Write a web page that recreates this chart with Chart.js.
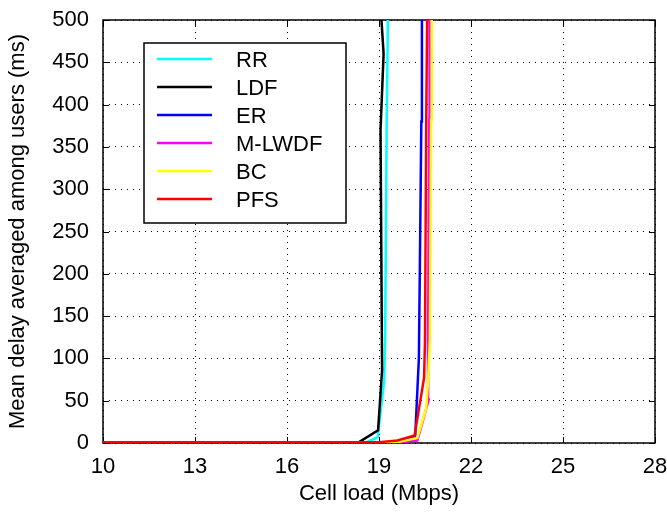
<!DOCTYPE html>
<html>
<head>
<meta charset="utf-8">
<script src="https://cdn.jsdelivr.net/npm/chart.js@4.4.1/dist/chart.umd.min.js"></script>
<style>
  html, body { margin: 0; padding: 0; background: #fff; }
  #wrap { width: 667px; height: 514px; }
</style>
</head>
<body>
<div id="wrap"><canvas id="chart"></canvas></div>
<script>
// Mean delay vs cell load, one line per scheduler.

const xTicks = [10, 13, 16, 19, 22, 25, 28];
const yTicks = [0, 50, 100, 150, 200, 250, 300, 350, 400, 450, 500];

const seriesNames = ['RR', 'LDF', 'ER', 'M-LWDF', 'BC', 'PFS'];
const seriesColors = ['#00ffff', '#000000', '#0000ff', '#ff00ff', '#ffff00', '#ff0000'];

const rrLoad   = [10, 18.6, 18.96, 19.17, 19.2, 19.25, 19.29];
const rrDelay  = [1, 1, 7, 74, 122, 380, 500];

const ldfLoad  = [10, 18.35, 18.97, 19.1, 19.05, 19.15, 19.08];
const ldfDelay = [1, 1, 15, 86, 370, 460, 500];

const erLoad   = [10, 19.5, 20.18, 20.3, 20.33, 20.38, 20.4];
const erDelay  = [1, 1, 7, 100, 200, 380, 500];

const mlwdfLoad  = [10, 19.5, 20.25, 20.62, 20.6, 20.64, 20.65];
const mlwdfDelay = [0.5, 0.5, 3, 51, 122, 382, 500];

const bcLoad   = [10, 19.6, 20.25, 20.54, 20.6, 20.66, 20.7, 20.72];
const bcDelay  = [1, 1, 6, 41, 74, 122, 382, 500];

const pfsLoad  = [10, 19, 19.6, 20.16, 20.47, 20.5, 20.54, 20.57];
const pfsDelay = [1, 1, 3, 9, 77, 122, 382, 500];

const loads = [rrLoad, ldfLoad, erLoad, mlwdfLoad, bcLoad, pfsLoad];
const delays = [rrDelay, ldfDelay, erDelay, mlwdfDelay, bcDelay, pfsDelay];

const FONT = '"Liberation Sans", Arial, sans-serif';

function toPoints(xs, ys) {
  return xs.map((x, i) => ({x, y: ys[i]}));
}

// no automatic room for overhanging tick labels, the layout is fixed
function noOverhang(s) {
  s.paddingLeft = 0; s.paddingRight = 0; s.paddingTop = 0; s.paddingBottom = 0;
}

// frame and inward ticks under the lines, boxed legend on top
const boxPlugin = {
  id: 'box',
  beforeDatasetsDraw(chart) {
    const {ctx, chartArea: a, scales} = chart;
    ctx.save();
    ctx.strokeStyle = '#000';
    ctx.lineWidth = 1.5;
    ctx.strokeRect(a.left, a.top, a.right - a.left, a.bottom - a.top);
    ctx.lineWidth = 1;
    const tl = 6;
    ctx.beginPath();
    yTicks.forEach(v => {
      const y = Math.round(scales.y.getPixelForValue(v)) + 0.5;
      ctx.moveTo(a.left, y); ctx.lineTo(a.left + tl, y);
      ctx.moveTo(a.right, y); ctx.lineTo(a.right - tl, y);
    });
    xTicks.forEach(v => {
      const x = Math.round(scales.x.getPixelForValue(v)) + 0.5;
      ctx.moveTo(x, a.bottom); ctx.lineTo(x, a.bottom - tl);
      ctx.moveTo(x, a.top); ctx.lineTo(x, a.top + tl);
    });
    ctx.stroke();
    ctx.restore();
  },
  afterDatasetsDraw(chart) {
    const {ctx} = chart;
    ctx.save();
    const bx = 144, by = 43, bw = 202, bh = 180;
    ctx.fillStyle = '#fff';
    ctx.fillRect(bx, by, bw, bh);
    ctx.strokeStyle = '#000';
    ctx.lineWidth = 1.5;
    ctx.strokeRect(bx, by, bw, bh);
    ctx.font = '22px ' + FONT;
    ctx.textBaseline = 'middle';
    ctx.textAlign = 'left';
    chart.data.datasets.forEach((ds, i) => {
      const y = 59 + i * 28;
      ctx.strokeStyle = ds.borderColor;
      ctx.lineWidth = 2.5;
      ctx.beginPath();
      ctx.moveTo(157, y); ctx.lineTo(212, y);
      ctx.stroke();
      ctx.fillStyle = '#000';
      ctx.fillText(ds.label, 236, y + 2);
    });
    ctx.restore();
  }
};

new Chart(document.getElementById('chart'), {
  type: 'line',
  data: {
    datasets: seriesNames.map((name, i) => ({
      label: name,
      data: toPoints(loads[i], delays[i]),
      borderColor: seriesColors[i],
      backgroundColor: seriesColors[i],
      borderWidth: 2.5,
      pointRadius: 0,
      tension: 0,
      fill: false,
      order: seriesNames.length - i   // later series drawn on top
    }))
  },
  options: {
    responsive: true,
    maintainAspectRatio: false,
    animation: false,
    layout: { padding: { top: 20, right: 12, left: 0, bottom: 0 } },
    plugins: {
      legend: { display: false },
      tooltip: { enabled: false }
    },
    scales: {
      x: {
        type: 'linear',
        min: 10,
        max: 28,
        afterBuildTicks: s => { s.ticks = xTicks.map(v => ({value: v})); },
        afterFit: s => { s.height = 71; noOverhang(s); },
        ticks: { color: '#000', font: {family: FONT, size: 22}, padding: 11 },
        grid: { color: '#000', lineWidth: 1, drawTicks: false },
        border: { display: false, dash: [1, 5] },
        title: { display: true, text: 'Cell load (Mbps)', color: '#000',
                 font: {family: FONT, size: 22}, padding: {top: 0, bottom: 7} }
      },
      y: {
        type: 'linear',
        min: 0,
        max: 500,
        afterBuildTicks: s => { s.ticks = yTicks.map(v => ({value: v})); },
        afterFit: s => { s.width = 103; noOverhang(s); },
        ticks: { color: '#000', font: {family: FONT, size: 22}, padding: 14 },
        grid: { color: '#000', lineWidth: 1, drawTicks: false },
        border: { display: false, dash: [1, 5] },
        title: { display: true, text: 'Mean delay averaged among users (ms)', color: '#000',
                 font: {family: FONT, size: 22}, padding: {top: 5, bottom: 0} }
      }
    }
  },
  plugins: [boxPlugin]
});
</script>
</body>
</html>
